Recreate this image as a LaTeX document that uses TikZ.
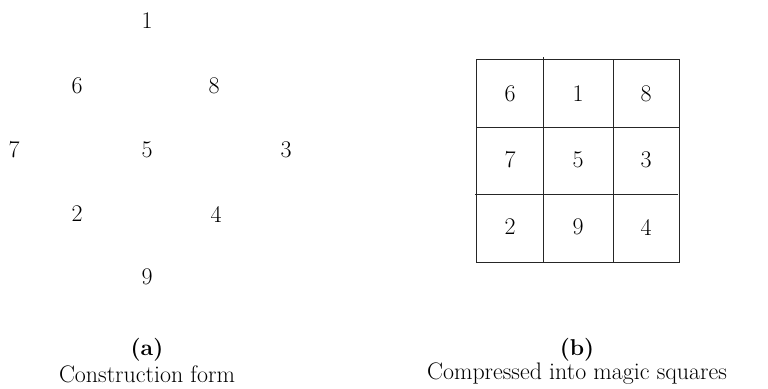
\documentclass[tikz,border=0pt]{standalone}
\begin{document}
\begin{tikzpicture}[x=1bp,y=-1bp,
  num/.style={inner sep=0pt,font=\fontsize{24}{28}\selectfont,text=black},
  captext/.style={inner sep=0pt,font=\fontsize{24}{28}\selectfont},
  capbold/.style={inner sep=0pt,font=\fontsize{23}{28}\selectfont\bfseries},
  gridline/.style={draw=black!85,line width=0.9bp}]
\useasboundingbox (0,0) rectangle (768,388);
% (a) construction form
\node[num] (a1) at (147,21) {1};
\node[num] (a6) at (77,86) {6};
\node[num] (a8) at (214,86) {8};
\node[num] (a7) at (14,150) {7};
\node[num] (a5) at (147,150) {5};
\node[num] (a3) at (286,150) {3};
\node[num] (a2) at (77,214) {2};
\node[num] (a4) at (216,214) {4};
\node[num] (a9) at (147,277) {9};
\node[capbold] (la) at (147,350) {(a)};
\node[captext] (ca) at (147,374) {Construction form};
% (b) magic square
\draw[gridline] (476,59) rectangle (679,262);
\draw[gridline] (543,57) -- (543,262);
\draw[gridline] (613,59) -- (613,262);
\draw[gridline] (476,127) -- (679,127);
\draw[gridline] (475,194) -- (678,194);
\node[num] (b6) at (510,94) {6};
\node[num] (b1) at (578,94) {1};
\node[num] (b8) at (646,94) {8};
\node[num] (b7) at (510,160) {7};
\node[num] (b5) at (578,160) {5};
\node[num] (b3) at (646,160) {3};
\node[num] (b2) at (510,227) {2};
\node[num] (b9) at (578,227) {9};
\node[num] (b4) at (646,227) {4};
\node[capbold] (lb) at (577,350) {(b)};
\node[captext] (cb) at (577,374) {Compressed into magic squares};
\end{tikzpicture}
\end{document}
